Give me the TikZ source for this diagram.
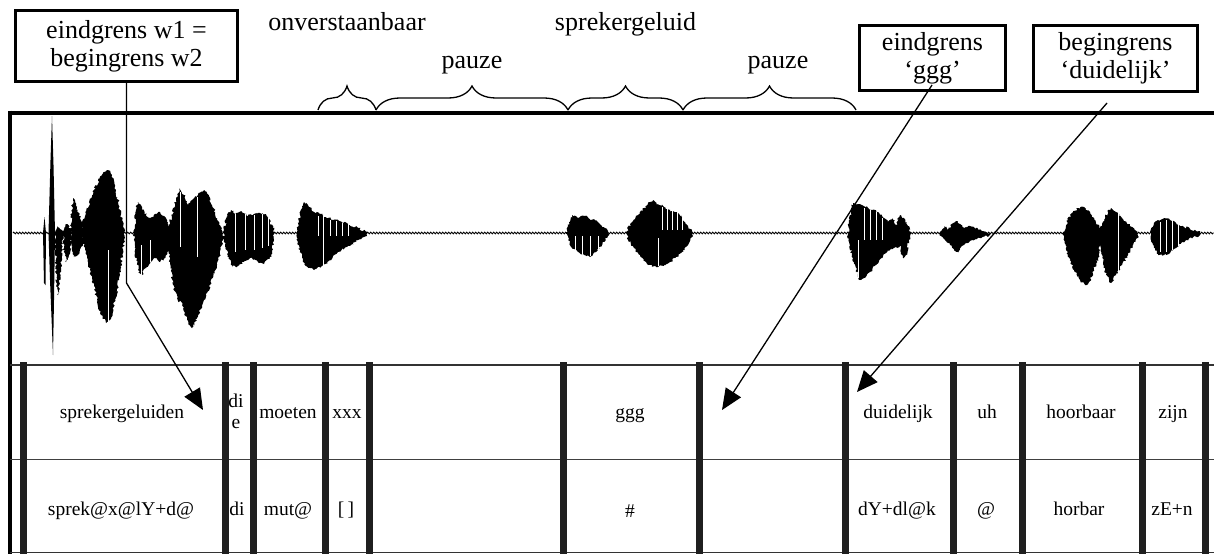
\documentclass[tikz,border=0pt]{standalone}
\usepackage{fontspec}
\setmainfont{Liberation Serif}
\usetikzlibrary{arrows.meta,decorations.pathreplacing,decorations.pathmorphing}

\begin{document}
\begin{tikzpicture}[x=1pt,y=-1pt,
  labelbox/.style={draw,line width=2.6pt,align=center,inner sep=0pt,font=\fontsize{26}{28}\selectfont},
  toplabel/.style={anchor=base,inner sep=0pt,font=\fontsize{26}{28}\selectfont},
  cell/.style={anchor=base,inner sep=0pt,font=\fontsize{19.5}{21}\selectfont},
  tierbar/.style={line width=7pt,draw=black!88},
  pointer/.style={line width=1.3pt,-{Triangle[length=21pt,width=18pt]}},
  segbrace/.style={decorate,decoration={brace,amplitude=24pt},line width=1.3pt},
  lobe/.style={fill=black,decorate,decoration={random steps,segment length=1.6pt,amplitude=1.3pt}},
  stripe/.style={draw=white,line width=0.9pt}
]
\useasboundingbox (0,0) rectangle (1214,554);
\pgfmathsetseed{11}

% ---------- waveform ----------
\draw[line width=0.8pt,decorate,decoration={zigzag,segment length=3pt,amplitude=0.9pt}] (13,233) -- (1214,233);

% onset bursts
\fill[black] (43,233) -- (44.5,217) -- (46,233) -- (45.5,285) -- (44,283) -- cycle;
\fill[black] (48.5,233) -- (50.5,160) -- (52,116) -- (53.5,165) -- (55,233) -- (54,300) -- (53,355) -- (52,330) -- (50,280) -- cycle;
\fill[lobe] (55,233) -- (57,226) -- (60,229) -- (63,233) -- (61,268) -- (58,295) -- (56,282) -- cycle;
\fill[lobe] (63,233) -- (66,224) -- (70,228) -- (72,233) -- (69,255) -- (66,262) -- (64,248) -- cycle;
\fill[lobe] (71,233) -- (72,205) -- (73,198) -- (76,206) -- (80,216) -- (83,224) -- (83,244) -- (78,255) -- (74,257) -- (72,250) -- cycle;
% large lobes of the first words
\fill[lobe] (82,222) -- (86,212) -- (92,195) -- (98,181) -- (104,172) -- (108,170) -- (112,175) -- (116,190) -- (120,210) -- (124,228) --
  (124,240) -- (120,275) -- (115,300) -- (111,318) -- (106,323) -- (101,315) -- (96,295) -- (90,270) -- (85,250) -- (82,240) -- cycle;
\fill[lobe] (134,232) -- (136,210) -- (138,202) -- (142,207) -- (146,215) -- (150,218) -- (155,214) -- (160,212) -- (164,216) -- (168,222) -- (170,228) --
  (170,245) -- (165,258) -- (160,262) -- (155,258) -- (150,262) -- (146,268) -- (142,275) -- (138,270) -- (135,250) -- cycle;
\fill[lobe] (168,228) -- (172,215) -- (176,200) -- (180,188) -- (184,195) -- (188,205) -- (192,200) -- (198,195) -- (204,190) -- (207,192) -- (212,205) -- (217,218) -- (222,228) --
  (222,245) -- (217,265) -- (210,285) -- (204,300) -- (198,315) -- (192,328) -- (187,320) -- (182,305) -- (177,298) -- (173,285) -- (170,262) -- (168,245) -- cycle;
\fill[lobe] (224,230) -- (227,215) -- (231,210) -- (236,214) -- (242,212) -- (248,216) -- (254,214) -- (260,213) -- (266,214) -- (270,222) -- (274,230) --
  (274,240) -- (270,258) -- (264,264) -- (258,262) -- (250,258) -- (244,262) -- (238,266) -- (232,267) -- (228,255) -- (224,242) -- cycle;
\fill[lobe] (297,232) -- (300,215) -- (304,202) -- (308,205) -- (314,212) -- (320,214) -- (326,217) -- (334,220) -- (342,222) -- (350,225) -- (358,228) -- (367,232) --
  (367,236) -- (358,240) -- (348,246) -- (338,252) -- (330,260) -- (322,266) -- (314,270) -- (308,268) -- (302,258) -- (298,242) -- cycle;
% middle bursts
\fill[lobe] (566,232) -- (569,222) -- (572,215) -- (578,218) -- (584,216) -- (590,219) -- (596,220) -- (602,226) -- (608,231) --
  (608,236) -- (602,245) -- (596,252) -- (590,257) -- (584,255) -- (578,252) -- (572,248) -- (568,240) -- cycle;
\fill[lobe] (626,232) -- (632,222) -- (638,215) -- (644,208) -- (650,202) -- (653,200) -- (658,204) -- (664,207) -- (670,210) -- (676,212) -- (682,218) -- (688,226) -- (693,232) --
  (693,236) -- (688,245) -- (682,252) -- (676,257) -- (670,262) -- (664,265) -- (658,267) -- (652,266) -- (646,262) -- (640,255) -- (634,248) -- (628,240) -- cycle;
% final words
\fill[lobe] (848,232) -- (850,215) -- (853,203) -- (860,204) -- (866,207) -- (872,210) -- (878,212) -- (884,218) -- (888,222) -- (892,218) -- (896,225) -- (900,215) -- (904,218) -- (908,226) -- (910,232) --
  (910,236) -- (906,255) -- (903,258) -- (900,246) -- (894,248) -- (888,250) -- (882,258) -- (876,265) -- (870,272) -- (864,278) -- (860,280) -- (856,270) -- (852,255) -- (849,242) -- cycle;
\fill[lobe] (940,232) -- (944,226) -- (948,230) -- (952,224) -- (956,221) -- (960,224) -- (964,228) -- (970,226) -- (976,228) -- (982,231) -- (990,233) --
  (990,235) -- (980,238) -- (972,240) -- (964,245) -- (958,252) -- (954,250) -- (950,245) -- (945,240) -- (941,236) -- cycle;
\fill[lobe] (1064,232) -- (1068,220) -- (1073,212) -- (1078,208) -- (1084,207) -- (1090,212) -- (1095,220) -- (1100,228) -- (1104,220) -- (1108,210) -- (1111,208) -- (1116,212) -- (1122,218) -- (1128,224) -- (1133,228) -- (1138,232) --
  (1138,236) -- (1133,245) -- (1128,255) -- (1122,265) -- (1116,275) -- (1111,283) -- (1106,275) -- (1102,255) -- (1100,245) -- (1098,258) -- (1094,270) -- (1089,282) -- (1085,285) -- (1080,280) -- (1074,270) -- (1068,255) -- (1064,240) -- cycle;
\fill[lobe] (1150,232) -- (1154,224) -- (1158,220) -- (1164,218) -- (1170,220) -- (1176,223) -- (1182,226) -- (1190,229) -- (1200,231) --
  (1200,235) -- (1190,238) -- (1182,242) -- (1176,248) -- (1170,253) -- (1164,255) -- (1158,254) -- (1154,248) -- (1151,240) -- cycle;

% sample gaps inside the bursts
\foreach \sx/\ya/\yb in {108/250/322, 141/245/275, 150/240/262, 180/192/247, 197/197/257,
  235/214/252, 245/214/250, 254/215/250, 262/214/248, 268/218/246,
  318/216/236, 323/216/266, 330/220/236, 336/221/236, 342/223/236, 348/225/236,
  575/236/252, 582/236/254, 590/236/256, 598/236/250,
  658/238/266, 662/207/230, 667/209/230, 672/210/230, 677/212/230, 682/218/230,
  858/240/278, 864/208/240, 870/210/240, 876/212/240, 882/218/240,
  1118/212/278, 1160/222/252, 1166/220/252, 1172/221/250, 1178/224/246}
  \draw[stripe] (\sx,\ya) -- (\sx,\yb);

% ---------- frame and tiers ----------
\draw[line width=4pt] (8,112.5) -- (1214,112.5);
\draw[line width=4.5pt] (10,110.5) -- (10,554);
\draw[line width=2pt,black!80] (10,365) -- (1214,365);
\draw[line width=1.4pt,black!75] (10,459.5) -- (1214,459.5);
\draw[line width=1.6pt,black!80] (10,552.5) -- (1214,552.5);
\foreach \bx in {23.5,225.5,253,325.5,369.5,563,699.5,845.5,953,1022,1142,1205.5}
  \draw[tierbar] (\bx,362) -- (\bx,554);

% ---------- segment braces and labels ----------
\coordinate (b0) at (318,110);
\coordinate (b1) at (376,110);
\coordinate (b2) at (568,110);
\coordinate (b3) at (683,110);
\coordinate (b4) at (856,110);
\draw[segbrace] (b0) -- (b1);
\draw[segbrace] (b1) -- (b2);
\draw[segbrace] (b2) -- (b3);
\draw[segbrace] (b3) -- (b4);

\node[toplabel] (lonv) at (347,30) {onverstaanbaar};
\node[toplabel] (lspr) at (625.5,30) {sprekergeluid};
\node[toplabel] (lpa1) at (472,68) {pauze};
\node[toplabel] (lpa2) at (778,68) {pauze};

% ---------- word tier ----------
\node[cell] (w1) at (122,418) {sprekergeluiden};
\node[cell] (w2a) at (236,407) {di};
\node[cell] (w2b) at (236,428) {e};
\node[cell] (w3) at (288,418) {moeten};
\node[cell] (w4) at (347,418) {xxx};
\node[cell] (w5) at (630,418) {ggg};
\node[cell] (w6) at (898,418) {duidelijk};
\node[cell] (w7) at (987,418) {uh};
\node[cell] (w8) at (1081,418) {hoorbaar};
\node[cell] (w9) at (1173,418) {zijn};

% ---------- phonetic tier ----------
\node[cell] (p1) at (121,515) {sprek@x@lY+d@};
\node[cell] (p2) at (237,515) {di};
\node[cell] (p3) at (288,515) {mut@};
\node[cell] (p4) at (346,515) {[\,]};
\node[cell] (p5) at (630,517) {\#};
\node[cell] (p6) at (897,515) {dY+dl@k};
\node[cell] (p7) at (986,515) {@};
\node[cell] (p8) at (1079,515) {horbar};
\node[cell] (p9) at (1172,515) {zE+n};

% ---------- callout boxes and pointers ----------
\node[labelbox,minimum width=222pt,minimum height=71pt] (box1) at (126.5,46) {eindgrens w1 =\\begingrens w2};
\node[labelbox,minimum width=146pt,minimum height=65pt] (box2) at (932.5,58) {eindgrens\\‘ggg’};
\node[labelbox,minimum width=164pt,minimum height=66pt] (box3) at (1115.5,58.5) {begingrens\\‘duidelijk’};

\coordinate (k1) at (126.5,283);
\coordinate (t1) at (203,410);
\coordinate (s2) at (932,85);
\coordinate (t2) at (722,410);
\coordinate (s3) at (1107,103);
\coordinate (t3) at (857,392);
\draw[pointer] (box1.south) -- (k1) -- (t1);
\draw[pointer] (s2) -- (t2);
\draw[pointer] (s3) -- (t3);
\end{tikzpicture}
\end{document}
